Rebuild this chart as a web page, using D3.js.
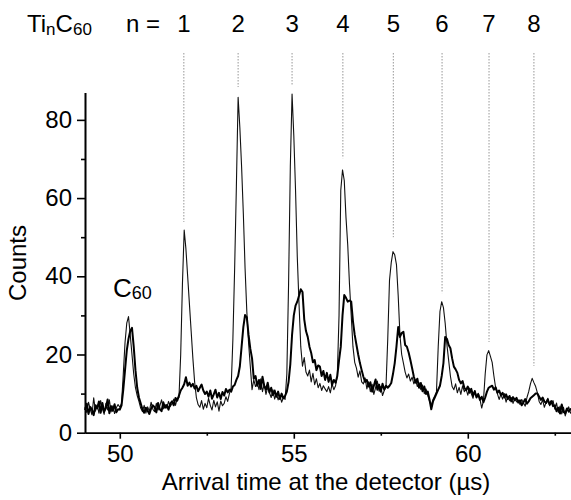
<!DOCTYPE html>
<html>
<head>
<meta charset="utf-8">
<script src="https://cdn.jsdelivr.net/npm/d3@7"></script>
<style>
body { margin: 0; background: #fff; }
svg { display: block; font-family: "Liberation Sans", Arial, sans-serif; }
</style>
</head>
<body>
<svg id="chart"></svg>
<script>
// time grid of the recorded spectra (µs)
let tStart = 49, tStep = 0.05;

// thin trace (sharp peaks), one row = 0.5 µs
let countsThin = [
    6.5, 5.2, 7.8, 6.0, 4.6, 8.9, 5.5, 7.1, 5.0, 8.2,
    6.1, 4.7, 7.5, 5.8, 8.4, 5.3, 6.9, 4.9, 6.4, 7.2,
    6.5, 7.5, 15.0, 23.0, 28.0, 29.7, 25.0, 20.0, 15.0, 11.5,
    9.5, 8.0, 6.3, 5.4, 7.0, 5.0, 6.6, 5.5, 7.8, 6.0,
    5.4, 7.5, 5.8, 6.9, 8.4, 6.1, 7.2, 6.3, 8.0, 6.7,
    7.4, 8.6, 7.0, 8.8, 9.0, 20.0, 38.0, 51.8, 47.0, 40.0,
    33.0, 26.0, 19.0, 13.0, 9.0, 7.2, 6.5, 8.2, 6.0, 7.5,
    6.4, 8.8, 7.0, 5.8, 8.3, 6.6, 7.9, 5.5, 8.1, 6.9,
    7.5, 9.2, 8.0, 10.0, 11.5, 24.0, 42.0, 63.0, 85.8, 78.0,
    68.0, 56.0, 42.0, 31.0, 23.0, 17.0, 11.0, 13.5, 11.8, 12.8,
    11.0, 13.8, 10.5, 12.4, 9.8, 11.6, 10.2, 9.0, 11.0, 8.6,
    10.0, 8.4, 9.5, 7.8, 9.0, 8.5, 15.0, 38.0, 68.0, 86.6,
    76.0, 62.0, 45.0, 33.0, 22.0, 17.0, 19.2, 15.5, 14.5, 16.0,
    13.0, 15.2, 12.3, 13.8, 11.5, 12.6, 10.8, 12.0, 11.2, 10.5,
    11.8, 10.2, 12.5, 11.0, 12.0, 14.5, 30.0, 62.0, 67.2, 64.5,
    55.0, 48.0, 38.0, 30.0, 22.0, 18.0, 16.5, 14.2, 15.8, 13.0,
    12.5, 14.0, 11.2, 13.0, 10.5, 12.4, 9.8, 11.5, 13.2, 10.6,
    11.8, 9.5, 10.8, 12.0, 24.0, 39.0, 43.5, 46.3, 45.5, 43.0,
    35.0, 25.0, 20.0, 17.8, 15.5, 14.0, 15.0, 13.2, 14.2, 12.5,
    13.5, 11.8, 12.8, 11.0, 12.2, 10.0, 11.2, 9.5, 8.0, 7.0,
    8.5, 9.4, 10.5, 22.0, 31.0, 33.5, 32.0, 28.0, 22.5, 18.5,
    14.5, 11.8, 11.0, 12.5, 10.2, 11.6, 9.8, 12.0, 10.5, 11.2,
    9.6, 11.4, 10.0, 8.8, 10.8, 9.2, 10.1, 8.5, 6.3, 8.2,
    15.0, 19.9, 21.0, 19.5, 18.0, 14.5, 11.5, 10.0, 8.5, 9.8,
    8.6, 10.0, 7.8, 9.3, 8.2, 9.0, 7.5, 8.8, 7.9, 8.4,
    7.2, 8.5, 7.6, 6.8, 9.0, 10.5, 12.5, 13.9, 12.8, 11.8,
    10.2, 8.0, 7.2, 8.4, 6.5, 7.8, 8.8, 6.9, 7.5, 8.2,
    6.0, 7.6, 5.2, 6.8, 4.8, 6.5, 4.3, 5.8, 6.6, 5.0,
    5.6
];

// thick trace (broad peaks)
let countsThick = [
    5.8, 7.4, 4.8, 6.6, 5.9, 4.5, 7.0, 6.2, 8.0, 5.1,
    7.6, 5.4, 6.3, 8.5, 5.0, 6.8, 5.6, 7.3, 5.2, 6.0,
    5.9, 7.0, 11.0, 16.0, 21.0, 24.0, 26.0, 26.8, 22.0, 16.0,
    11.5, 9.0, 7.5, 6.0, 5.1, 6.4, 5.6, 4.8, 6.2, 7.0,
    6.5, 5.2, 7.6, 6.0, 5.5, 7.8, 6.4, 7.1, 5.9, 7.4,
    8.0, 7.0, 8.9, 8.2, 9.5, 10.8, 11.5, 12.4, 14.2, 12.0,
    12.8, 11.8, 12.5, 11.3, 12.0, 10.6, 11.5, 12.3, 10.8, 9.9,
    10.5, 9.2, 10.8, 8.7, 9.8, 11.0, 9.0, 10.2, 8.6, 10.4,
    9.5, 11.2, 10.3, 11.0, 10.5, 11.8, 12.2, 13.5, 14.5, 17.0,
    22.0, 27.0, 30.1, 29.5, 25.0, 21.5, 19.0, 13.8, 14.5, 12.0,
    13.5, 11.2, 14.3, 12.0, 11.0, 12.8, 10.3, 11.5, 9.6, 10.8,
    9.2, 10.5, 8.6, 10.0, 8.8, 9.4, 10.5, 13.0, 17.5, 25.0,
    30.0, 32.5, 33.5, 35.0, 36.7, 36.0, 29.0, 26.0, 24.5, 22.0,
    20.4, 18.0, 18.6, 16.0, 17.2, 16.9, 14.5, 15.8, 13.5, 15.3,
    13.0, 14.8, 12.2, 13.5, 12.8, 14.5, 18.5, 22.0, 30.0, 35.2,
    34.5, 33.5, 33.8, 33.5, 28.5, 25.0, 22.5, 20.0, 17.8, 16.0,
    14.3, 13.0, 13.5, 11.8, 12.9, 10.5, 12.0, 13.6, 11.0, 12.3,
    10.5, 12.5, 11.0, 12.0, 11.5, 12.0, 12.7, 15.0, 17.8, 22.0,
    27.0, 24.5, 25.5, 25.8, 22.4, 22.0, 20.5, 18.6, 16.5, 14.3,
    12.8, 13.8, 11.5, 12.7, 10.6, 11.8, 9.9, 10.5, 8.5, 6.0,
    8.0, 9.0, 10.0, 11.0, 12.0, 14.5, 17.8, 24.5, 24.0, 22.4,
    21.6, 19.0, 16.9, 16.2, 15.3, 13.5, 12.6, 13.2, 11.5, 10.9,
    11.8, 10.2, 11.2, 9.5, 10.6, 9.0, 9.8, 8.4, 9.2, 7.8,
    9.0, 10.5, 11.5, 11.8, 12.0, 11.0, 11.6, 10.2, 10.8, 9.6,
    10.2, 9.0, 9.8, 8.6, 9.4, 8.0, 9.1, 8.3, 8.9, 7.7,
    8.3, 7.0, 7.8, 8.6, 7.4, 8.0, 8.8, 9.2, 9.6, 10.0,
    10.0, 9.2, 8.4, 9.0, 8.0, 7.6, 8.5, 7.2, 8.1, 6.8,
    7.0, 5.5, 6.4, 4.9, 7.2, 5.3, 5.0, 6.2, 5.4, 6.0,
    6.2
];

// Ti_n C60 cluster positions and where their marker lines stop
let clusterN = [1, 2, 3, 4, 5, 6, 7, 8];
let clusterTime = [51.84, 53.40, 54.95, 56.41, 57.86, 59.26, 60.61, 61.90];
let markerBottom = [53.9, 88.4, 88.7, 70.2, 50.0, 35.7, 23.2, 17.1];

let xTicks = [50, 55, 60];
let xMinorTicks = [52.5, 57.5, 62.5];
let yTicks = [0, 20, 40, 60, 80];
let yMinorTicks = [10, 30, 50, 70];

let width = 571, height = 500;
let svg = d3.select("#chart").attr("width", width).attr("height", height);

let x = d3.scaleLinear().domain([49, 63]).range([85, 572.2]);
let y = d3.scaleLinear().domain([0, 87]).range([432.7, 92.5]);

let times = d3.range(countsThin.length).map(i => tStart + i * tStep);

// marker lines
svg.append("g").selectAll("line")
    .data(clusterTime)
    .join("line")
    .attr("x1", d => x(d)).attr("x2", d => x(d))
    .attr("y1", 53)
    .attr("y2", (d, i) => y(markerBottom[i]))
    .attr("stroke", "#8a8a8a")
    .attr("stroke-width", 0.9)
    .attr("stroke-dasharray", "1.5,1.5");

// traces
let line = d3.line().x((d, i) => x(times[i])).y(d => y(d));
svg.append("path")
    .datum(countsThin)
    .attr("d", line)
    .attr("fill", "none")
    .attr("stroke", "#111")
    .attr("stroke-width", 1.1)
    .attr("stroke-linejoin", "round");
svg.append("path")
    .datum(countsThick)
    .attr("d", line)
    .attr("fill", "none")
    .attr("stroke", "#000")
    .attr("stroke-width", 2)
    .attr("stroke-linejoin", "round");

// axes
svg.append("g").attr("transform", `translate(0,${y(0)})`)
    .call(d3.axisBottom(x).tickValues(xTicks).tickSize(6).tickSizeOuter(0).tickPadding(6));
svg.append("g").attr("transform", `translate(0,${y(0)})`)
    .call(d3.axisBottom(x).tickValues(xMinorTicks).tickSize(3).tickSizeOuter(0).tickFormat(""));
svg.append("g").attr("transform", `translate(${x(49)},0)`)
    .call(d3.axisLeft(y).tickValues(yTicks).tickSize(8).tickSizeOuter(0).tickPadding(5));
svg.append("g").attr("transform", `translate(${x(49)},0)`)
    .call(d3.axisLeft(y).tickValues(yMinorTicks).tickSize(4).tickSizeOuter(0).tickFormat(""));

svg.selectAll(".domain, .tick line").attr("stroke", "#000").attr("stroke-width", 1.6);
svg.selectAll(".tick text").attr("font-size", 24).attr("fill", "#000")
    .attr("font-family", "'Liberation Sans', Arial, sans-serif");

// axis titles
svg.append("text")
    .attr("x", 326).attr("y", 490)
    .attr("text-anchor", "middle")
    .attr("font-size", 24)
    .text("Arrival time at the detector (µs)");
svg.append("text")
    .attr("transform", "translate(26,263) rotate(-90)")
    .attr("text-anchor", "middle")
    .attr("font-size", 24)
    .text("Counts");

// header: Ti_n C60  n = 1 2 3 ...
let head = svg.append("text").attr("x", 27).attr("y", 32).attr("font-size", 24);
head.append("tspan").text("Ti");
head.append("tspan").attr("font-size", 17).attr("dy", 3).text("n");
head.append("tspan").attr("dy", -3).text("C");
head.append("tspan").attr("font-size", 17).attr("dy", 3).text("60");

svg.append("text")
    .attr("x", 160).attr("y", 32)
    .attr("text-anchor", "end")
    .attr("font-size", 24)
    .text("n =");

svg.append("g").selectAll("text")
    .data(clusterN)
    .join("text")
    .attr("x", (d, i) => x(clusterTime[i]))
    .attr("y", 32)
    .attr("text-anchor", "middle")
    .attr("font-size", 24)
    .text(d => d);

// C60 peak label
let c60 = svg.append("text").attr("x", 113).attr("y", 297).attr("font-size", 26);
c60.append("tspan").text("C");
c60.append("tspan").attr("font-size", 18).attr("dy", 2).text("60");
</script>
</body>
</html>
